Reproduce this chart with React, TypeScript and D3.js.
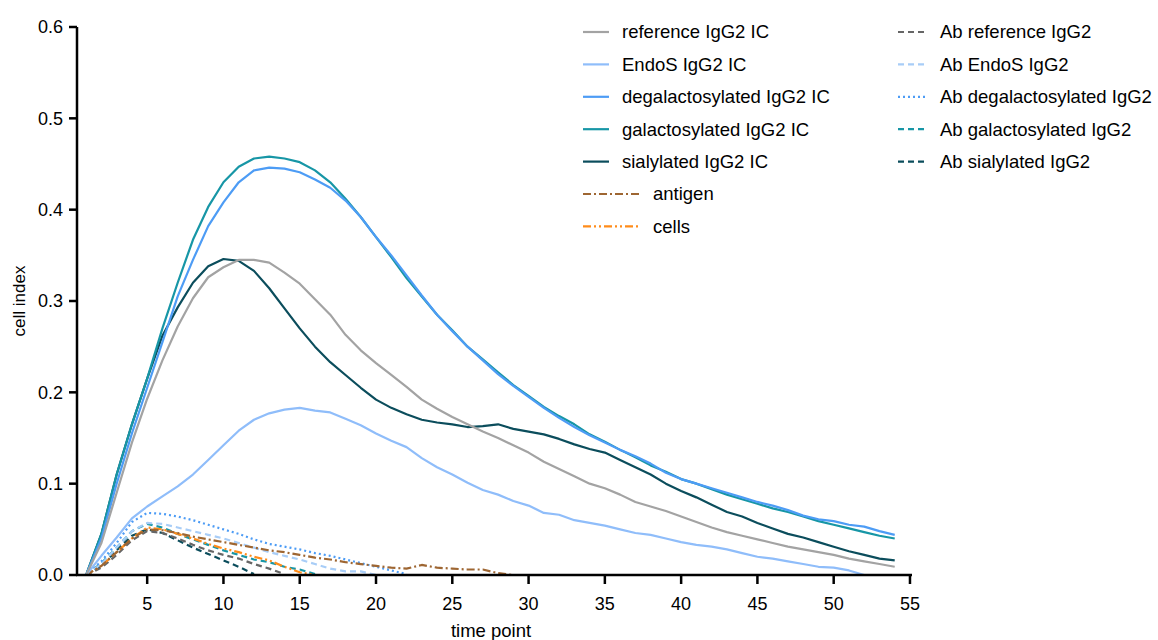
import React from 'react';
import * as d3 from 'd3';

// time points 1..54
const refIC = [0, 0.035, 0.09, 0.145, 0.193, 0.235, 0.272, 0.303, 0.326, 0.337, 0.345, 0.345, 0.342, 0.331, 0.319, 0.302, 0.285, 0.263, 0.246, 0.232, 0.219, 0.206, 0.192, 0.182, 0.173, 0.165, 0.157, 0.15, 0.142, 0.134, 0.124, 0.116, 0.108, 0.1, 0.095, 0.088, 0.08, 0.075, 0.07, 0.064, 0.058, 0.052, 0.047, 0.043, 0.039, 0.035, 0.031, 0.028, 0.025, 0.022, 0.018, 0.015, 0.012, 0.009];
const endoIC = [0, 0.021, 0.041, 0.062, 0.075, 0.086, 0.097, 0.11, 0.126, 0.142, 0.158, 0.17, 0.177, 0.181, 0.183, 0.18, 0.178, 0.171, 0.164, 0.155, 0.147, 0.14, 0.128, 0.118, 0.11, 0.101, 0.093, 0.088, 0.081, 0.076, 0.068, 0.066, 0.06, 0.057, 0.054, 0.05, 0.046, 0.044, 0.04, 0.036, 0.033, 0.031, 0.028, 0.024, 0.02, 0.018, 0.015, 0.012, 0.009, 0.008, 0.005, 0.0];
const degalIC = [0, 0.04, 0.1, 0.155, 0.205, 0.255, 0.305, 0.345, 0.382, 0.408, 0.43, 0.443, 0.446, 0.445, 0.441, 0.433, 0.424, 0.41, 0.392, 0.37, 0.35, 0.328, 0.306, 0.285, 0.267, 0.25, 0.235, 0.22, 0.207, 0.195, 0.183, 0.172, 0.162, 0.153, 0.145, 0.137, 0.13, 0.122, 0.112, 0.105, 0.1, 0.095, 0.09, 0.085, 0.08, 0.076, 0.071, 0.065, 0.061, 0.059, 0.055, 0.053, 0.048, 0.044];
const galIC = [0, 0.045, 0.11, 0.165, 0.215, 0.27, 0.32, 0.367, 0.403, 0.43, 0.447, 0.456, 0.458, 0.456, 0.452, 0.443, 0.43, 0.412, 0.392, 0.37, 0.348, 0.325, 0.305, 0.285, 0.268, 0.25, 0.236, 0.222, 0.208, 0.196, 0.184, 0.174, 0.165, 0.154, 0.146, 0.137, 0.129, 0.12, 0.113, 0.105, 0.1, 0.094, 0.088, 0.083, 0.078, 0.073, 0.069, 0.064, 0.059, 0.055, 0.051, 0.047, 0.043, 0.04];
const sialIC = [0, 0.045, 0.11, 0.165, 0.215, 0.262, 0.293, 0.32, 0.338, 0.346, 0.344, 0.333, 0.314, 0.292, 0.27, 0.25, 0.233, 0.219, 0.205, 0.192, 0.183, 0.176, 0.17, 0.167, 0.165, 0.162, 0.163, 0.165, 0.16, 0.157, 0.154, 0.149, 0.143, 0.138, 0.134, 0.126, 0.118, 0.11, 0.1, 0.092, 0.085, 0.077, 0.069, 0.064, 0.057, 0.051, 0.045, 0.041, 0.036, 0.031, 0.026, 0.022, 0.018, 0.016];
const antigen = [0, 0.01, 0.025, 0.04, 0.05, 0.049, 0.046, 0.042, 0.039, 0.036, 0.033, 0.03, 0.027, 0.025, 0.022, 0.019, 0.017, 0.014, 0.012, 0.01, 0.008, 0.007, 0.011, 0.008, 0.007, 0.006, 0.006, 0.002, 0.0];
const cells = [0, 0.01, 0.025, 0.04, 0.052, 0.05, 0.045, 0.04, 0.034, 0.029, 0.025, 0.02, 0.016, 0.009, 0.003, 0.0];
const abRef = [0, 0.008, 0.022, 0.038, 0.048, 0.046, 0.04, 0.033, 0.027, 0.022, 0.018, 0.012, 0.007, 0.001];
const abEndo = [0, 0.012, 0.03, 0.048, 0.057, 0.056, 0.052, 0.048, 0.044, 0.04, 0.035, 0.03, 0.025, 0.021, 0.017, 0.012, 0.007, 0.004, 0.004, 0.0];
const abDegal = [0, 0.015, 0.035, 0.058, 0.068, 0.067, 0.064, 0.06, 0.055, 0.05, 0.045, 0.039, 0.034, 0.031, 0.028, 0.024, 0.021, 0.017, 0.013, 0.009, 0.005, 0.001];
const abGal = [0, 0.013, 0.03, 0.048, 0.056, 0.052, 0.045, 0.039, 0.033, 0.027, 0.022, 0.017, 0.014, 0.009, 0.006, 0.001];
const abSial = [0, 0.01, 0.027, 0.043, 0.05, 0.046, 0.038, 0.03, 0.023, 0.016, 0.009, 0.001];

const yTicks = [0, 0.1, 0.2, 0.3, 0.4, 0.5, 0.6];
const xTicks = [5, 10, 15, 20, 25, 30, 35, 40, 45, 50, 55];

const series = [
  { name: 'reference IgG2 IC', values: refIC, color: '#a3a3a3', dash: null, col: 0 },
  { name: 'EndoS IgG2 IC', values: endoIC, color: '#8fbdfa', dash: null, col: 0 },
  { name: 'degalactosylated IgG2 IC', values: degalIC, color: '#4d9cf5', dash: null, col: 0 },
  { name: 'galactosylated IgG2 IC', values: galIC, color: '#1796a6', dash: null, col: 0 },
  { name: 'sialylated IgG2 IC', values: sialIC, color: '#0b4d5c', dash: null, col: 0 },
  { name: 'antigen', values: antigen, color: '#9e6632', dash: '8,3,2,3', col: 0 },
  { name: 'cells', values: cells, color: '#ff8c1a', dash: '8,3,2,3,2,3', col: 0 },
  { name: 'Ab reference IgG2', values: abRef, color: '#666666', dash: '6,4', col: 1 },
  { name: 'Ab EndoS IgG2', values: abEndo, color: '#a8cdf7', dash: '6,4', col: 1 },
  { name: 'Ab degalactosylated IgG2', values: abDegal, color: '#4d9cf5', dash: '2,3', col: 1 },
  { name: 'Ab galactosylated IgG2', values: abGal, color: '#1796a6', dash: '6,4', col: 1 },
  { name: 'Ab sialylated IgG2', values: abSial, color: '#0b4d5c', dash: '6,4', col: 1 },
];

const font = 'Liberation Sans, Arial, sans-serif';

export default function App() {
  const x = d3.scaleLinear().domain([0.4, 55.1]).range([77, 911.5]);
  const y = d3.scaleLinear().domain([0, 0.6]).range([575, 27]);
  const line = d3.line<number>().x((_, i) => x(i + 1)).y(d => y(d));

  // draw in reverse so solid IC lines sit on top
  const drawOrder = [...series].reverse();

  let rowL = 0, rowR = 0;

  return (
    <svg width={1158} height={640} style={{ position: 'absolute', left: 0, top: 0, background: '#fff' }}
      fontFamily={font}>
      {drawOrder.map(s => (
        <path key={s.name} d={line(s.values) || ''} fill="none" stroke={s.color}
          strokeWidth={2.2} strokeDasharray={s.dash || undefined} strokeLinejoin="round" />
      ))}

      {/* y axis */}
      <line x1={77} x2={77} y1={27} y2={576} stroke="#000" strokeWidth={2.5} />
      {yTicks.map(t => (
        <g key={t}>
          <line x1={69} x2={77} y1={y(t)} y2={y(t)} stroke="#000" strokeWidth={2.5} />
          <text x={63} y={y(t)} dy="0.35em" textAnchor="end" fontSize={18}>{t.toFixed(1)}</text>
        </g>
      ))}
      <text transform={`translate(25,${y(0.3)}) rotate(-90)`} textAnchor="middle" fontSize={17}>cell index</text>

      {/* x axis */}
      <line x1={76} x2={912} y1={575} y2={575} stroke="#000" strokeWidth={2.5} />
      {xTicks.map(t => (
        <g key={t}>
          <line x1={x(t)} x2={x(t)} y1={575} y2={584} stroke="#000" strokeWidth={2.5} />
          <text x={x(t)} y={604} dy="0.35em" textAnchor="middle" fontSize={18}>{t}</text>
        </g>
      ))}
      <text x={491} y={631} dy="0.35em" textAnchor="middle" fontSize={18.5}>time point</text>

      {/* legend */}
      {series.map(s => {
        const left = s.col === 0;
        const row = left ? rowL++ : rowR++;
        const cy = 32 + row * 32.4;
        const long = s.dash && left;
        const x0 = left ? 583 : 898;
        const x1 = left ? (long ? 640 : 609) : 925;
        const tx = left ? (long ? 653 : 622) : 940;
        return (
          <g key={'lg' + s.name}>
            <line x1={x0} x2={x1} y1={cy} y2={cy} stroke={s.color} strokeWidth={2.2}
              strokeDasharray={s.dash || undefined} />
            <text x={tx} y={cy} dy="0.35em" fontSize={18.5}>{s.name}</text>
          </g>
        );
      })}
    </svg>
  );
}
